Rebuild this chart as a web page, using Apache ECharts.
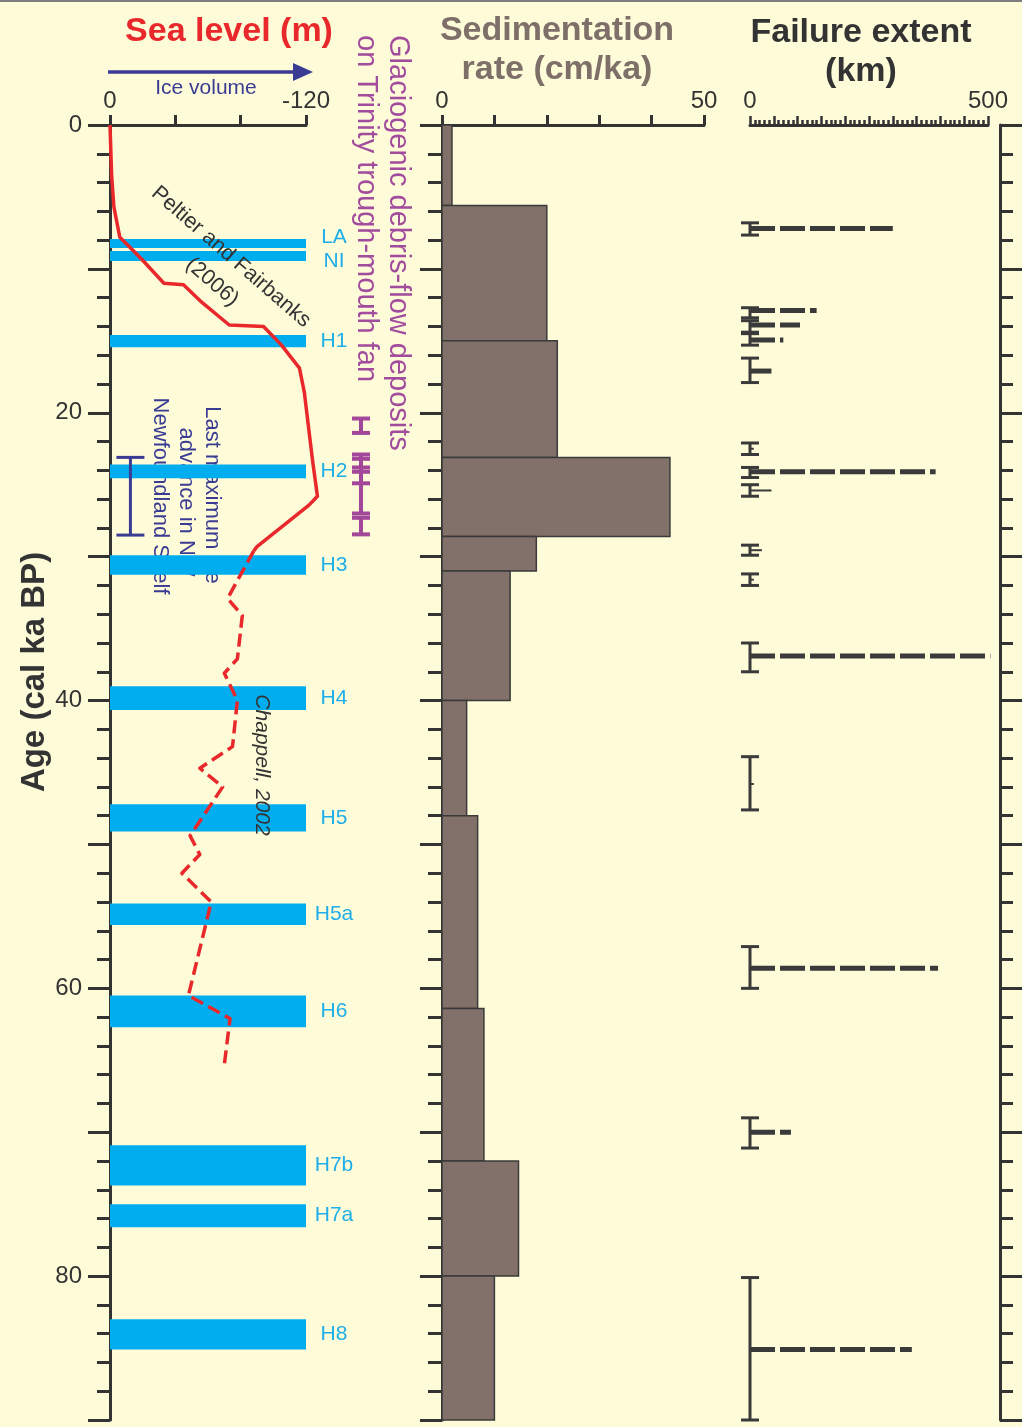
<!DOCTYPE html>
<html>
<head>
<meta charset="utf-8">
<script src="https://cdn.jsdelivr.net/npm/echarts@6/dist/echarts.min.js"></script>
<style>
  html, body { margin: 0; padding: 0; background: #FEFBD8; }
  #chart { width: 1022px; height: 1427px; }
</style>
</head>
<body>
<div id="chart"></div>
<script>
// ---- Age axis (cal ka BP) ----
const ageMin = 0;
const ageMax = 90;
const ageLabelStep = 20;

// ---- Sea level (m): Peltier and Fairbanks (2006), solid ----
const seaLevelAgeSolid = [0, 3.5, 5.7, 7.8, 8.7, 9.4, 11.0, 11.1, 12.2, 13.9, 14.0, 15.3, 16.9, 18.6, 23.3, 25.8, 26.4, 29.3, 29.6];
const seaLevelSolid    = [0, -1, -2.4, -6, -14, -20, -33, -45, -55, -73, -94, -105, -116, -119, -124, -127, -122, -90, -88];
// ---- Sea level (m): Chappell (2002), dashed ----
const seaLevelAgeDashed = [29.6, 32.9, 34.1, 37.1, 38.1, 40.0, 43.2, 44.7, 46.0, 49.4, 50.7, 52.0, 54.0, 60.5, 62.1, 65.3];
const seaLevelDashed    = [-88, -72, -81, -78, -70, -78, -75, -55, -69, -49, -55, -44, -62, -48, -73.5, -70];

// ---- Heinrich events and cold stadials ----
const heinrichNames = ['LA', 'NI', 'H1', 'H2', 'H3', 'H4', 'H5', 'H5a', 'H6', 'H7b', 'H7a', 'H8'];
const heinrichStart = [7.93, 8.76, 14.6, 23.6, 29.9, 39.0, 47.2, 54.1, 60.5, 70.9, 75.0, 83.0];
const heinrichEnd   = [8.55, 9.46, 15.45, 24.55, 31.25, 40.65, 49.1, 55.6, 62.7, 73.7, 76.6, 85.1];

// ---- Glaciogenic debris-flow deposits (age ranges, ka) ----
const debrisFrom = [20.4, 22.9, 23.2, 23.8, 27.3];
const debrisTo   = [21.4, 24.1, 24.9, 27.0, 28.45];

// ---- Last maximum ice advance in NW Newfoundland Shelf (ka) ----
const iceAdvanceFrom = [23.1];
const iceAdvanceTo   = [28.5];

// ---- Sedimentation rate (cm/ka) per age interval ----
const sedEdges = [0, 5.6, 15.0, 23.1, 28.6, 31.0, 40.0, 48.0, 61.4, 72.0, 80.0, 90.0];
const sedRates = [1.9, 20, 22, 43.5, 18, 13, 4.7, 6.8, 8, 14.6, 10];

// ---- Failure extent (km) with age uncertainty ----
const failureAge     = [7.2, 12.9, 13.9, 14.95, 17.1, 22.5, 24.1, 25.4, 29.55, 31.6, 36.9, 45.8, 58.6, 70.0, 85.1];
const failureAgeFrom = [6.8, 12.7, 13.6, 14.5, 16.2, 22.1, 23.8, 25.0, 29.2, 31.2, 36.0, 43.9, 57.1, 69.0, 80.1];
const failureAgeTo   = [7.65, 13.4, 14.4, 15.3, 17.9, 22.9, 24.5, 25.8, 29.9, 32.0, 38.0, 47.6, 60.0, 71.1, 90.0];
const failureKm      = [300, 140, 105, 70, 45, 8, 390, 45, 25, 8, 505, 8, 395, 86, 340];
const failureDefined = [1, 1, 1, 1, 1, 0, 1, 0, 0, 0, 1, 0, 1, 1, 1];

// ---- Styling ----
const FONT = 'Liberation Sans, Arial, Helvetica, sans-serif';
const INK = '#333333';
const RED = '#E8282B';
const CYAN = '#00AEEF';
const CYAN_TEXT = '#1FAEEA';
const PURPLE = '#A3479B';
const NAVY = '#3A3C94';
const SED_FILL = '#81716A';

const chart = echarts.init(document.getElementById('chart'), null, { renderer: 'canvas' });

const TOP = 125, HEIGHT = 1295;

function ageAxis(gridIndex, opts) {
  return Object.assign({
    type: 'value', gridIndex, inverse: true, min: ageMin, max: ageMax, interval: 10,
    axisLine: { show: true, onZero: false, lineStyle: { color: INK, width: 3 } },
    axisTick: { show: true, length: 22, lineStyle: { color: INK, width: 3 } },
    minorTick: { show: true, splitNumber: 5, length: 13, lineStyle: { color: INK, width: 3 } },
    axisLabel: { show: false },
    splitLine: { show: false }
  }, opts);
}

function topAxis(gridIndex, opts) {
  return Object.assign({
    type: 'value', gridIndex, position: 'top',
    axisLine: { show: true, onZero: false, lineStyle: { color: INK, width: 3 } },
    axisTick: { show: true, length: 10, lineStyle: { color: INK, width: 3 } },
    splitLine: { show: false },
    axisLabel: { margin: 12, color: INK, fontSize: 24, fontFamily: FONT }
  }, opts);
}

// Each sea-level curve is one item; its points are mapped through the axes
const seaCurves = [
  { ages: seaLevelAgeSolid, levels: seaLevelSolid, dash: null },
  { ages: seaLevelAgeDashed, levels: seaLevelDashed, dash: [13, 6] }
];
const heinrichData = heinrichNames.map((n, i) => [heinrichStart[i], heinrichEnd[i]]);
const sedData = sedRates.map((r, i) => [sedEdges[i], sedEdges[i + 1], r]);
const failureData = failureAge.map((a, i) => [failureAgeFrom[i], failureAgeTo[i], a, failureKm[i]]);
const debrisData = debrisFrom.map((f, i) => [f, debrisTo[i]]);
const iceData = iceAdvanceFrom.map((f, i) => [f, iceAdvanceTo[i]]);

function ibeam(x, y1, y2, half, color, width) {
  return [
    { type: 'line', shape: { x1: x, y1: y1, x2: x, y2: y2 }, style: { stroke: color, lineWidth: width } },
    { type: 'line', shape: { x1: x - half, y1: y1, x2: x + half, y2: y1 }, style: { stroke: color, lineWidth: width } },
    { type: 'line', shape: { x1: x - half, y1: y2, x2: x + half, y2: y2 }, style: { stroke: color, lineWidth: width } }
  ];
}

const option = {
  backgroundColor: '#FEFBD8',
  animation: false,
  grid: [
    { left: 110, top: TOP, width: 196, height: HEIGHT },   // sea level
    { left: 442, top: TOP, width: 262, height: HEIGHT },   // sedimentation
    { left: 750, top: TOP, width: 238, height: HEIGHT },   // failure extent
    { left: 352, top: TOP, width: 18, height: HEIGHT }     // debris-flow deposits column
  ],
  xAxis: [
    topAxis(0, {
      min: -120, max: 0, interval: 40, inverse: true,
      axisLabel: { margin: 12, color: INK, fontSize: 24, fontFamily: FONT,
        formatter: v => (v === 0 || v === -120) ? String(v) : '' }
    }),
    topAxis(1, {
      min: 0, max: 50, interval: 10,
      axisLabel: { margin: 12, color: INK, fontSize: 24, fontFamily: FONT,
        formatter: v => (v === 0 || v === 50) ? String(v) : '' }
    }),
    topAxis(2, {
      min: 0, max: 500, interval: 50,
      axisTick: { show: true, length: 9, lineStyle: { color: INK, width: 2.5 } },
      minorTick: { show: true, splitNumber: 5, length: 5, lineStyle: { color: INK, width: 2.5 } },
      axisLabel: { margin: 12, color: INK, fontSize: 24, fontFamily: FONT,
        formatter: v => (v === 0 || v === 500) ? String(v) : '' }
    }),
    { type: 'value', gridIndex: 3, min: 0, max: 1, show: false }
  ],
  yAxis: [
    ageAxis(0, {
      position: 'left',
      axisLabel: { show: true, margin: 28, color: INK, fontSize: 24, fontFamily: FONT,
        formatter: v => (v % ageLabelStep === 0) ? String(v) : '' }
    }),
    ageAxis(1, { position: 'left', minorTick: { show: true, splitNumber: 5, length: 14, lineStyle: { color: INK, width: 3 } } }),
    ageAxis(2, { position: 'right', offset: 12, minorTick: { show: true, splitNumber: 5, length: 13, lineStyle: { color: INK, width: 3 } } }),
    { type: 'value', gridIndex: 3, inverse: true, min: ageMin, max: ageMax, show: false }
  ],
  series: [
    {
      // Heinrich events
      type: 'custom', xAxisIndex: 0, yAxisIndex: 0, z: 5,
      data: heinrichData,
      renderItem(params, api) {
        const i = params.dataIndex;
        const p0 = api.coord([0, api.value(0)]);
        const p1 = api.coord([-120, api.value(1)]);
        let ty = (p0[1] + p1[1]) / 2, va = 'middle';
        const prevGap = i > 0 ? p0[1] - api.coord([0, heinrichEnd[i - 1]])[1] : 999;
        const nextGap = i < heinrichNames.length - 1 ? api.coord([0, heinrichStart[i + 1]])[1] - p1[1] : 999;
        if (nextGap < 8) { ty = p1[1]; va = 'bottom'; }
        else if (prevGap < 8) { ty = p0[1]; va = 'top'; }
        return {
          type: 'group',
          children: [
            { type: 'rect', shape: { x: p0[0], y: p0[1], width: p1[0] - p0[0], height: p1[1] - p0[1] },
              style: { fill: CYAN } },
            { type: 'text', x: p1[0] + 28, y: ty,
              style: { text: heinrichNames[i], fill: CYAN_TEXT, fontSize: 21, fontFamily: FONT,
                align: 'center', verticalAlign: va } }
          ]
        };
      }
    },
    {
      // Last maximum ice advance age range
      type: 'custom', xAxisIndex: 0, yAxisIndex: 0, z: 6,
      data: iceData,
      renderItem(params, api) {
        const a = api.coord([-12.5, api.value(0)]);
        const b = api.coord([-12.5, api.value(1)]);
        return { type: 'group', children: ibeam(a[0], a[1], b[1], 14, NAVY, 3) };
      }
    },
    {
      // Sea-level curves (may run past -120 m, so drawn unclipped)
      type: 'custom', xAxisIndex: 0, yAxisIndex: 0, z: 8,
      data: seaCurves.map((c, i) => [c.levels[0], c.ages[0]]),
      renderItem(params, api) {
        const c = seaCurves[params.dataIndex];
        const pts = c.ages.map((a, k) => api.coord([c.levels[k], a]));
        return { type: 'polyline', shape: { points: pts },
          style: { stroke: RED, lineWidth: 3.5, fill: null, lineDash: c.dash, lineJoin: 'round' } };
      }
    },
    {
      // Glaciogenic debris-flow deposits
      type: 'custom', xAxisIndex: 3, yAxisIndex: 3, z: 6,
      data: debrisData,
      renderItem(params, api) {
        const a = api.coord([0.5, api.value(0)]);
        const b = api.coord([0.5, api.value(1)]);
        return { type: 'group', children: ibeam(a[0], a[1], b[1], 9, PURPLE, 4) };
      }
    },
    {
      // Sedimentation rate bars
      type: 'custom', xAxisIndex: 1, yAxisIndex: 1, z: 3,
      data: sedData,
      renderItem(params, api) {
        const p0 = api.coord([0, api.value(0)]);
        const p1 = api.coord([api.value(2), api.value(1)]);
        return { type: 'rect', shape: { x: p0[0], y: p0[1], width: p1[0] - p0[0], height: p1[1] - p0[1] },
          style: { fill: SED_FILL, stroke: '#3a3a3a', lineWidth: 1.5 } };
      }
    },
    {
      // Failure extent with age uncertainty
      type: 'custom', xAxisIndex: 2, yAxisIndex: 2, z: 4,
      data: failureData,
      renderItem(params, api) {
        const i = params.dataIndex;
        const a = api.coord([0, api.value(0)]);
        const b = api.coord([0, api.value(1)]);
        const m = api.coord([0, api.value(2)]);
        const e = api.coord([api.value(3), api.value(2)]);
        const solid = failureDefined[i] === 1;
        const kids = ibeam(a[0], a[1], b[1], 9, '#3a3a3a', 3);
        kids.push({ type: 'line', shape: { x1: m[0], y1: m[1], x2: e[0], y2: m[1] },
          style: { stroke: '#3a3a3a', lineWidth: solid ? 5 : 2, lineDash: [25, 5] } });
        return { type: 'group', children: kids };
      }
    }
  ],
  graphic: [
    { type: 'rect', shape: { x: 0, y: 0, width: 1022, height: 2 }, style: { fill: '#7d7d7d' }, z: 20 },
    // Panel titles
    { type: 'text', x: 229, y: 32, z: 20, style: { text: 'Sea level (m)', fill: RED, fontSize: 34, fontWeight: 'bold', fontFamily: FONT, align: 'center', verticalAlign: 'middle' } },
    { type: 'text', x: 557, y: 31, z: 20, style: { text: 'Sedimentation', fill: '#7E6F69', fontSize: 34, fontWeight: 'bold', fontFamily: FONT, align: 'center', verticalAlign: 'middle' } },
    { type: 'text', x: 557, y: 70, z: 20, style: { text: 'rate (cm/ka)', fill: '#7E6F69', fontSize: 34, fontWeight: 'bold', fontFamily: FONT, align: 'center', verticalAlign: 'middle' } },
    { type: 'text', x: 861, y: 33, z: 20, style: { text: 'Failure extent', fill: INK, fontSize: 34, fontWeight: 'bold', fontFamily: FONT, align: 'center', verticalAlign: 'middle' } },
    { type: 'text', x: 861, y: 72, z: 20, style: { text: '(km)', fill: INK, fontSize: 34, fontWeight: 'bold', fontFamily: FONT, align: 'center', verticalAlign: 'middle' } },
    // Age axis name
    { type: 'text', x: 35, y: 672, rotation: Math.PI / 2, z: 20, style: { text: 'Age (cal ka BP)', fill: INK, fontSize: 33, fontWeight: 'bold', fontFamily: FONT, align: 'center', verticalAlign: 'middle' } },
    // Ice volume arrow
    { type: 'line', z: 20, shape: { x1: 108, y1: 72, x2: 296, y2: 72 }, style: { stroke: NAVY, lineWidth: 3.5 } },
    { type: 'polygon', z: 20, shape: { points: [[293, 63], [313, 72], [293, 81]] }, style: { fill: NAVY } },
    { type: 'text', x: 206, y: 88, z: 20, style: { text: 'Ice volume', fill: NAVY, fontSize: 21, fontFamily: FONT, align: 'center', verticalAlign: 'middle' } },
    // Deposit column title
    { type: 'text', x: 398, y: 35, rotation: -Math.PI / 2, z: 20, style: { text: 'Glaciogenic debris-flow deposits', fill: '#A24C9E', fontSize: 29, fontFamily: FONT, align: 'left', verticalAlign: 'middle' } },
    { type: 'text', x: 366, y: 35, rotation: -Math.PI / 2, z: 20, style: { text: 'on Trinity trough-mouth fan', fill: '#A24C9E', fontSize: 29, fontFamily: FONT, align: 'left', verticalAlign: 'middle' } },
    // Curve sources
    { type: 'text', x: 231, y: 257, rotation: -0.716, z: 20, style: { text: 'Peltier and Fairbanks', fill: INK, fontSize: 21.5, fontFamily: FONT, align: 'center', verticalAlign: 'middle' } },
    { type: 'text', x: 212, y: 282, rotation: -0.716, z: 20, style: { text: '(2006)', fill: INK, fontSize: 21.5, fontFamily: FONT, align: 'center', verticalAlign: 'middle' } },
    { type: 'text', x: 262, y: 765, rotation: -Math.PI / 2, z: 20, style: { text: 'Chappell, 2002', fill: INK, fontSize: 21, fontStyle: 'italic', fontFamily: FONT, align: 'center', verticalAlign: 'middle' } },
    // Ice advance note (beneath the Heinrich bars)
    { type: 'text', x: 212, y: 495, rotation: -Math.PI / 2, z: 1, style: { text: 'Last maximum ice', fill: NAVY, fontSize: 22, fontFamily: FONT, align: 'center', verticalAlign: 'middle' } },
    { type: 'text', x: 186, y: 502, rotation: -Math.PI / 2, z: 1, style: { text: 'advance in NW', fill: NAVY, fontSize: 22, fontFamily: FONT, align: 'center', verticalAlign: 'middle' } },
    { type: 'text', x: 160, y: 496, rotation: -Math.PI / 2, z: 1, style: { text: 'Newfoundland Shelf', fill: NAVY, fontSize: 22, fontFamily: FONT, align: 'center', verticalAlign: 'middle' } }
  ]
};

chart.setOption(option);
</script>
</body>
</html>
